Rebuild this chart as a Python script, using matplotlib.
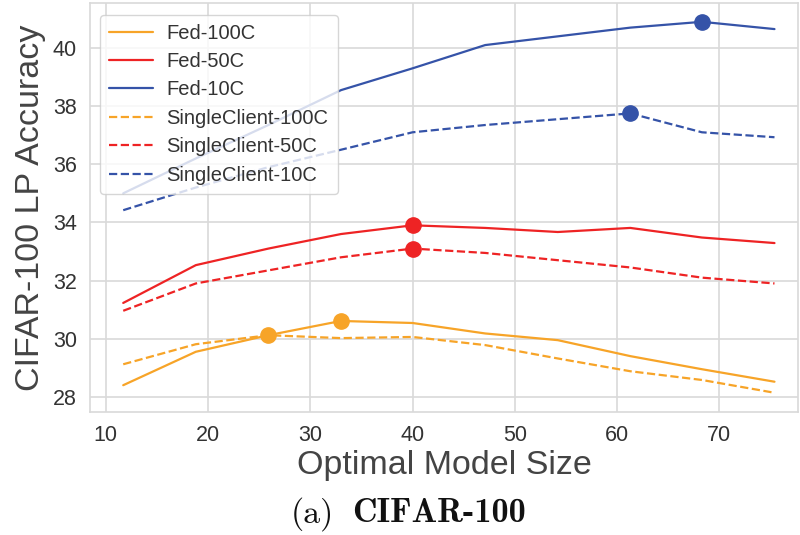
# Optimal model size vs CIFAR-100 linear probe accuracy
import numpy as np
import matplotlib
matplotlib.use('Agg')
import matplotlib.pyplot as plt
import seaborn as sns

# data
model_size = [11.7, 18.8, 25.9, 33.0, 40.0, 47.1, 54.2, 61.3, 68.3, 75.4]

fed_100c = [28.40, 29.55, 30.12, 30.61, 30.54, 30.18, 29.95, 29.40, 28.95, 28.52]
fed_50c = [31.23, 32.53, 33.10, 33.60, 33.90, 33.81, 33.67, 33.81, 33.48, 33.29]
fed_10c = [35.00, 36.20, 37.35, 38.55, 39.30, 40.10, 40.40, 40.70, 40.90, 40.65]
single_100c = [29.12, 29.81, 30.12, 30.02, 30.06, 29.78, 29.32, 28.88, 28.58, 28.14]
single_50c = [30.96, 31.90, 32.35, 32.80, 33.10, 32.95, 32.70, 32.45, 32.10, 31.90]
single_10c = [34.42, 35.20, 35.90, 36.50, 37.10, 37.35, 37.55, 37.75, 37.10, 36.93]

# index of the highlighted point on each curve
best_fed = [3, 4, 8]
best_single = [2, 4, 7]

labels = ['Fed-100C', 'Fed-50C', 'Fed-10C',
          'SingleClient-100C', 'SingleClient-50C', 'SingleClient-10C']

orange = '#F7A428'
red = '#EE2324'
blue = '#3553A8'

sns.set_style('whitegrid')
plt.rcParams['font.family'] = ['Liberation Sans', 'DejaVu Sans']

fig = plt.figure(figsize=(8, 5.35), dpi=100)
ax = fig.add_axes([0.1125, 0.23, 0.885, 0.764])

fed = [fed_100c, fed_50c, fed_10c]
single = [single_100c, single_50c, single_10c]
colors = [orange, red, blue]

for i in range(3):
    ax.plot(model_size, fed[i], color=colors[i], lw=1.6, label=labels[i])
for i in range(3):
    ax.plot(model_size, single[i], color=colors[i], lw=1.6, ls='--', label=labels[i + 3])

for i in range(3):
    j = best_fed[i]
    ax.plot(model_size[j], fed[i][j], 'o', color=colors[i], ms=11)
    j = best_single[i]
    ax.plot(model_size[j], single[i][j], 'o', color=colors[i], ms=11)

ax.set_xlim(8.45, 77.7)
ax.set_ylim(27.48, 41.54)
ax.set_xticks([10, 20, 30, 40, 50, 60, 70])
ax.set_yticks([28, 30, 32, 34, 36, 38, 40])
ax.tick_params(labelsize=15.5, colors='#333333', pad=6)

ax.set_xlabel('Optimal Model Size', fontsize=24.5, color='#444444', labelpad=3)
ax.set_ylabel('CIFAR-100 LP Accuracy', fontsize=24.5, color='#444444', labelpad=5)

ax.grid(color='#d9d9d9', lw=1.2)
for s in ax.spines.values():
    s.set_color('#d9d9d9')
    s.set_linewidth(1.2)

leg = ax.legend(loc='upper left', fontsize=14.5, handlelength=2.2,
                handletextpad=0.65, framealpha=0.8, borderpad=0.45,
                labelspacing=0.47, bbox_to_anchor=(0.0, 0.997))
for t in leg.get_texts():
    t.set_color('#333333')

# caption: "(a)" regular, "CIFAR-100" bold, computer modern
fig.text(0.417, 0.024, '(a)', ha='right', va='baseline',
         fontsize=24.5, family='cmr10', color='#111111')
fig.text(0.44, 0.024, 'CIFAR-100', ha='left', va='baseline',
         fontsize=24.5, family='cmb10', color='#111111')

fig.savefig('out.png', dpi=100)
